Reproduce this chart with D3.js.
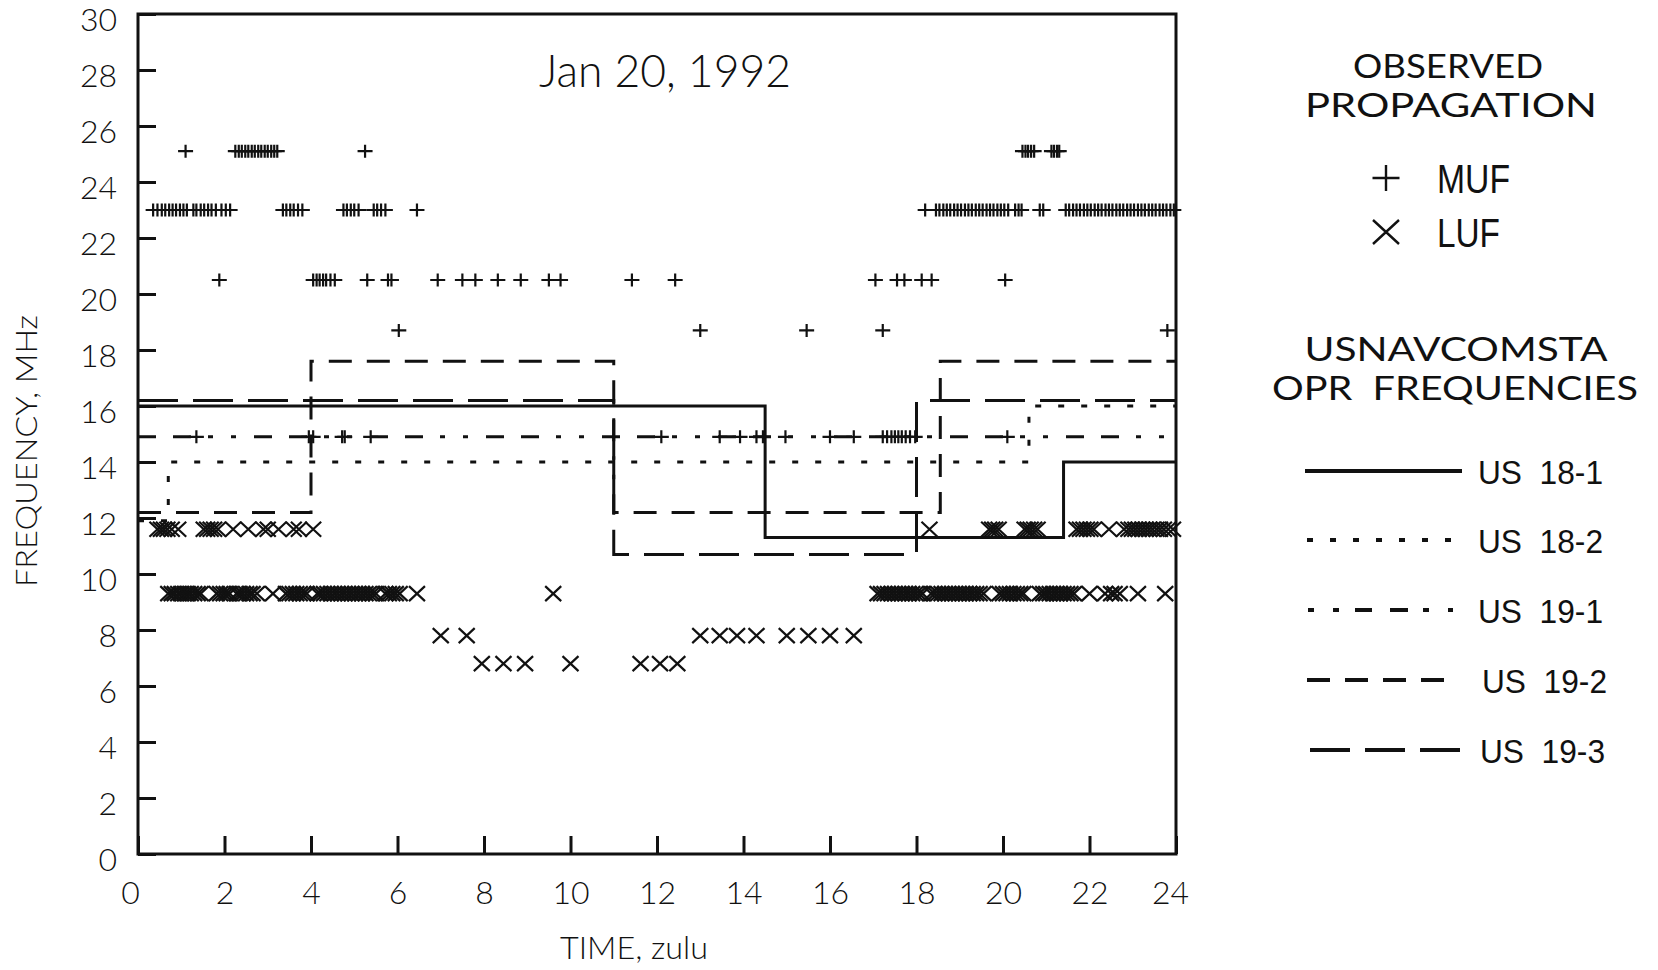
<!DOCTYPE html>
<html>
<head>
<meta charset="utf-8">
<script src="https://cdn.jsdelivr.net/npm/d3@7"></script>
<style>
  html, body { margin: 0; padding: 0; background: #fff; }
  svg { display: block; }
  .gothic { font-family: Lato, "DejaVu Sans", sans-serif; }
  .helv { font-family: "Liberation Sans", Arial, sans-serif; }
</style>
</head>
<body>
<svg id="chart" width="1658" height="970"></svg>
<script>
// ---- axis ticks ----
const hourTicks = [0, 2, 4, 6, 8, 10, 12, 14, 16, 18, 20, 22, 24];
const freqTicks = [0, 2, 4, 6, 8, 10, 12, 14, 16, 18, 20, 22, 24, 26, 28, 30];

// ---- USNAVCOMSTA operating frequencies (step changes: hour, MHz) ----
const us181Hours = [0, 14.5, 21.4, 24];
const us181Freqs = [16.0, 11.3, 14.0, 14.0];
const us182Hours = [0, 0.7, 20.6, 24];
const us182Freqs = [11.9, 14.0, 16.0, 16.0];
const us191Hours = [0, 24];
const us191Freqs = [14.9, 14.9];
const us192Hours = [0, 4.0, 11.0, 18.55, 24];
const us192Freqs = [12.2, 17.6, 12.2, 17.6, 17.6];
const us193Hours = [0, 11.0, 18.0, 24];
const us193Freqs = [16.2, 10.7, 16.2, 16.2];

// ---- observed MUF (hours at which each sounding frequency was seen) ----
const mufFreq251 = 25.1;
const mufHours251 = [1.1, 2.25, 2.33, 2.4, 2.48, 2.55, 2.63, 2.7, 2.78, 2.85, 2.93, 3.0, 3.08, 3.15, 3.22,
  5.25, 20.45, 20.52, 20.58, 20.65, 20.72, 21.12, 21.18, 21.25, 21.3];
const mufFreq230 = 23.0;
const mufHours230 = [0.35, 0.45, 0.55, 0.63, 0.72, 0.8, 0.88, 0.97, 1.05, 1.13, 1.28, 1.35, 1.45, 1.53,
  1.62, 1.7, 1.8, 1.93, 2.03, 2.13, 3.35, 3.43, 3.52, 3.6, 3.7, 3.8, 4.75, 4.83, 4.92, 5.0, 5.1,
  5.45, 5.53, 5.62, 5.72, 6.45, 18.2, 18.45, 18.53, 18.62, 18.7, 18.78, 18.87, 18.95, 19.03, 19.12,
  19.2, 19.28, 19.37, 19.45, 19.53, 19.62, 19.7, 19.78, 19.87, 19.95, 20.03, 20.12, 20.28, 20.36,
  20.43, 20.85, 20.93, 21.45, 21.53, 21.62, 21.7, 21.78, 21.87, 21.95, 22.03, 22.12, 22.2, 22.28,
  22.37, 22.45, 22.53, 22.62, 22.7, 22.78, 22.87, 22.95, 23.03, 23.12, 23.2, 23.28, 23.37, 23.45,
  23.53, 23.62, 23.7, 23.78, 23.87, 23.95];
const mufFreq205 = 20.5;
const mufHours205 = [1.88, 4.05, 4.13, 4.2, 4.28, 4.35, 4.45, 4.55, 5.3, 5.78, 5.86, 6.93, 7.5, 7.8,
  8.32, 8.85, 9.5, 9.77, 11.42, 12.42, 17.05, 17.55, 17.72, 18.12, 18.35, 20.05];
const mufFreq187 = 18.7;
const mufHours187 = [6.03, 13.0, 15.46, 17.22, 23.8];
const mufFreq149 = 14.9;
const mufHours149 = [1.35, 3.95, 4.05, 4.72, 4.78, 5.38, 12.1, 13.45, 13.92, 14.3, 14.45, 14.97, 16.0,
  16.55, 17.22, 17.32, 17.42, 17.5, 17.58, 17.66, 17.75, 17.85, 17.97, 20.1];

// ---- observed LUF ----
const lufFreq116 = 11.6;
const lufHours116 = [0.45, 0.53, 0.6, 0.68, 0.78, 0.93, 1.52, 1.6, 1.68, 1.76, 1.85, 2.2, 2.55, 2.9,
  3.0, 3.25, 3.6, 3.72, 4.05, 18.3, 19.68, 19.75, 19.82, 19.9, 20.5, 20.57, 20.64, 20.72, 20.8,
  21.7, 21.78, 21.86, 21.94, 22.02, 22.1, 22.45, 22.8, 22.9, 22.98, 23.06, 23.14, 23.22, 23.3,
  23.38, 23.46, 23.55, 23.63, 23.72, 23.82, 23.93];
const lufFreq93 = 9.3;
const lufHours93 = [0.7, 0.78, 0.85, 0.93, 1.0, 1.08, 1.15, 1.22, 1.3, 1.38, 1.45, 1.82, 1.9, 1.98,
  2.05, 2.12, 2.28, 2.35, 2.42, 2.5, 2.58, 2.65, 2.75, 3.12, 3.42, 3.5, 3.58, 3.66, 3.74, 3.82, 3.9,
  4.15, 4.22, 4.3, 4.38, 4.46, 4.54, 4.62, 4.7, 4.78, 4.86, 4.94, 5.02, 5.1, 5.18, 5.26, 5.34, 5.42,
  5.5, 5.72, 5.8, 5.88, 5.96, 6.05, 6.45, 9.6,
  17.1, 17.18, 17.26, 17.34, 17.42, 17.5, 17.58, 17.66, 17.74, 17.82, 17.9, 17.98, 18.06, 18.14,
  18.34, 18.42, 18.5, 18.58, 18.66, 18.74, 18.82, 18.9, 18.98, 19.06, 19.14, 19.22, 19.3, 19.38,
  19.46, 19.55, 19.92, 20.0, 20.08, 20.16, 20.24, 20.32, 20.4, 20.47, 20.85, 20.93, 21.0, 21.08,
  21.16, 21.24, 21.32, 21.4, 21.48, 21.56, 21.64, 22.0, 22.36, 22.5, 22.58, 22.7, 23.12, 23.75];
const lufFreq78 = 7.8;
const lufHours78 = [7.0, 7.6, 13.0, 13.45, 13.85, 14.3, 15.0, 15.5, 16.0, 16.55];
const lufFreq68 = 6.8;
const lufHours68 = [7.95, 8.45, 8.95, 10.0, 11.62, 12.07, 12.47];

// ---- text ----
const chartTitle = "Jan 20, 1992";
const xTitle = "TIME, zulu";
const yTitle = "FREQUENCY, MHz";
const seriesNames = ["US  18-1", "US  18-2", "US  19-1", "US  19-2", "US  19-3"];

// ---------------------------------------------------------------
const svg = d3.select("#chart");
svg.append("rect").attr("width", 1658).attr("height", 970).attr("fill", "#fff");

const x = d3.scaleLinear().domain([0, 24]).range([138, 1176]);
const y = d3.scaleLinear().domain([0, 30]).range([854, 14]);

const ink = "#111";
const gothicFont = "Lato, 'DejaVu Sans', sans-serif";

// x axis: ticks point up into the plot
const gx = svg.append("g").attr("transform", `translate(0,${y(0)})`)
  .call(d3.axisBottom(x).tickValues(hourTicks).tickSizeInner(-18).tickSizeOuter(0).tickPadding(27)
    .tickFormat(d3.format("d")));
gx.select(".domain").remove();
gx.selectAll(".tick line").attr("stroke", ink).attr("stroke-width", 3);
gx.selectAll(".tick text").attr("font-size", 32).attr("fill", ink)
  .attr("font-weight", 300).attr("font-family", gothicFont)
  // the corner labels sit a little inside the frame corners
  .attr("dx", d => d === 0 ? -8 : d === 24 ? -6 : 0);

// y axis: ticks point right into the plot
const gy = svg.append("g").attr("transform", `translate(${x(0)},0)`)
  .call(d3.axisLeft(y).tickValues(freqTicks).tickSizeInner(-18).tickSizeOuter(0).tickPadding(21)
    .tickFormat(d3.format("d")));
gy.select(".domain").remove();
gy.selectAll(".tick line").attr("stroke", ink).attr("stroke-width", 3);
gy.selectAll(".tick text").attr("font-size", 32).attr("fill", ink).attr("dy", "0.52em")
  .attr("font-weight", 300).attr("font-family", gothicFont);

// plot frame
svg.append("rect")
  .attr("x", x(0)).attr("y", y(30))
  .attr("width", x(24) - x(0)).attr("height", y(0) - y(30))
  .attr("fill", "none").attr("stroke", ink).attr("stroke-width", 3);

// title and axis titles
svg.append("text").attr("class", "gothic").attr("x", 665).attr("y", 87)
  .attr("text-anchor", "middle").attr("font-size", 46).attr("font-weight", 300).attr("fill", ink)
  .attr("textLength", 252).attr("lengthAdjust", "spacingAndGlyphs").text(chartTitle);
svg.append("text").attr("class", "gothic").attr("x", 634).attr("y", 959)
  .attr("text-anchor", "middle").attr("font-size", 31).attr("font-weight", 300).attr("fill", ink)
  .attr("textLength", 148).attr("lengthAdjust", "spacingAndGlyphs").text(xTitle);
svg.append("text").attr("class", "gothic")
  .attr("transform", "translate(37,451) rotate(-90)")
  .attr("text-anchor", "middle").attr("font-size", 29).attr("font-weight", 300).attr("fill", ink)
  .attr("textLength", 272).attr("lengthAdjust", "spacingAndGlyphs").text(yTitle);

// operating frequency step lines
const dashes = [null, "6,17", "18,17,18,17,5,18,5,18", "23,15", "40,15"];
const steps = [
  [us181Hours, us181Freqs], [us182Hours, us182Freqs], [us191Hours, us191Freqs],
  [us192Hours, us192Freqs], [us193Hours, us193Freqs]
];
const stepLine = d3.line().x(d => x(d[0])).y(d => y(d[1])).curve(d3.curveStepAfter);
steps.forEach(([hs, fs], i) => {
  svg.append("path")
    .datum(hs.map((h, k) => [h, fs[k]]))
    .attr("d", stepLine)
    .attr("fill", "none").attr("stroke", ink).attr("stroke-width", 3)
    .attr("stroke-dasharray", dashes[i]);
});

// observation markers
const plusPath = "M-7.5,0H7.5M0,-6.5V6.5";
const crossPath = "M-8,-7.5L8,7.5M-8,7.5L8,-7.5";
const mufRows = [[mufFreq251, mufHours251], [mufFreq230, mufHours230], [mufFreq205, mufHours205],
  [mufFreq187, mufHours187], [mufFreq149, mufHours149]];
const lufRows = [[lufFreq116, lufHours116], [lufFreq93, lufHours93], [lufFreq78, lufHours78],
  [lufFreq68, lufHours68]];

function drawMarkers(rows, path, cls) {
  const pts = rows.flatMap(([f, hs]) => hs.map(h => ({ h, f })));
  svg.append("g").selectAll("path." + cls).data(pts).join("path")
    .attr("class", cls)
    .attr("transform", d => `translate(${x(d.h)},${y(d.f)})`)
    .attr("d", path)
    .attr("fill", "none").attr("stroke", ink).attr("stroke-width", 2.2);
}
drawMarkers(mufRows, plusPath, "muf");
drawMarkers(lufRows, crossPath, "luf");

// ---- legend ----
const lg = svg.append("g");

// two-line headings, each as one text block
function heading(lines) {
  const t = lg.append("text").attr("class", "gothic").attr("text-anchor", "middle")
    .attr("font-size", 32).attr("font-weight", 400).attr("fill", ink)
    .style("white-space", "pre");
  lines.forEach(l => {
    t.append("tspan").attr("x", l.cx).attr("y", l.base)
      .attr("textLength", l.w).attr("lengthAdjust", "spacingAndGlyphs").text(l.s);
  });
}
heading([{ s: "OBSERVED", cx: 1448, base: 78, w: 190 }, { s: "PROPAGATION", cx: 1451, base: 117, w: 292 }]);
heading([{ s: "USNAVCOMSTA", cx: 1456, base: 361, w: 303 }, { s: "OPR  FREQUENCIES", cx: 1455, base: 400, w: 366 }]);

lg.append("path").attr("transform", "translate(1386,178)").attr("d", "M-13.5,0H13.5M0,-13V13")
  .attr("stroke", ink).attr("stroke-width", 2.4).attr("fill", "none");
lg.append("text").attr("class", "helv").attr("x", 1437).attr("y", 193)
  .attr("font-size", 40).attr("fill", ink).attr("textLength", 73).attr("lengthAdjust", "spacingAndGlyphs")
  .text("MUF");
lg.append("path").attr("transform", "translate(1386,232)").attr("d", "M-13,-12L13,12M-13,12L13,-12")
  .attr("stroke", ink).attr("stroke-width", 2.4).attr("fill", "none");
lg.append("text").attr("class", "helv").attr("x", 1437).attr("y", 247)
  .attr("font-size", 40).attr("fill", ink).attr("textLength", 63).attr("lengthAdjust", "spacingAndGlyphs")
  .text("LUF");

const legendRowY = [471, 540, 610, 680, 750];
const legendLineX = [[1305, 1462], [1307, 1452], [1308, 1453], [1307, 1445], [1310, 1463]];
const legendTextX = [1478, 1478, 1478, 1482, 1480];
seriesNames.forEach((name, i) => {
  lg.append("line")
    .attr("x1", legendLineX[i][0]).attr("x2", legendLineX[i][1])
    .attr("y1", legendRowY[i]).attr("y2", legendRowY[i])
    .attr("stroke", ink).attr("stroke-width", 4)
    .attr("stroke-dasharray", i === 2 ? "6,19,6,16,17,18,18,15" : dashes[i]);
  lg.append("text").attr("class", "helv")
    .attr("x", legendTextX[i]).attr("y", legendRowY[i] + 13)
    .attr("font-size", 33).attr("fill", ink)
    .attr("textLength", 125).attr("lengthAdjust", "spacingAndGlyphs")
    .style("white-space", "pre").text(name);
});
</script>
</body>
</html>
